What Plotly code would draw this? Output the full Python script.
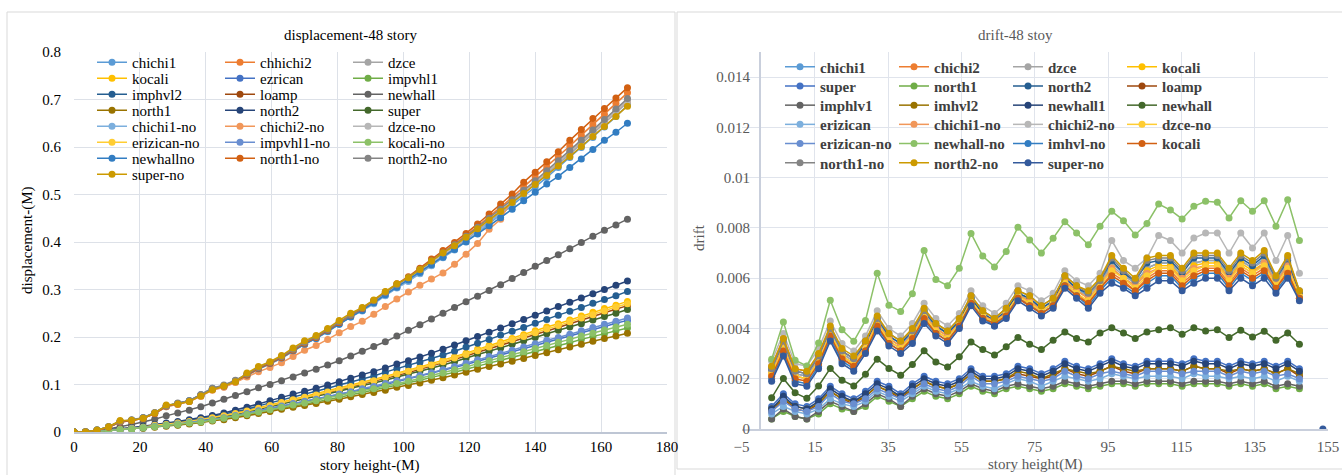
import plotly.graph_objects as go

W, H = 1342, 475

# ---------------- displacement per floor (m) ----------------
story_height = [0, 3.5, 7, 10.5, 14, 17.5, 21, 24.5, 28, 31.5, 35, 38.5, 42, 45.5, 49, 52.5,
                56, 59.5, 63, 66.5, 70, 73.5, 77, 80.5, 84, 87.5, 91, 94.5, 98, 101.5, 105,
                108.5, 112, 115.5, 119, 122.5, 126, 129.5, 133, 136.5, 140, 143.5, 147, 150.5,
                154, 157.5, 161, 164.5, 168]

disp_chichi1 = [0, 0, 0.004, 0.011, 0.022, 0.025, 0.030, 0.040, 0.055, 0.060, 0.066, 0.078, 0.092, 0.098, 0.108, 0.121, 0.134, 0.145, 0.157, 0.171, 0.186, 0.198, 0.212, 0.228, 0.243, 0.256, 0.272, 0.288, 0.304, 0.318, 0.334, 0.351, 0.368, 0.384, 0.401, 0.419, 0.438, 0.457, 0.476, 0.496, 0.516, 0.536, 0.557, 0.578, 0.599, 0.620, 0.642, 0.664, 0.688]
disp_chhichi2 = [0, 0, 0.003, 0.010, 0.021, 0.024, 0.029, 0.039, 0.054, 0.059, 0.065, 0.077, 0.090, 0.096, 0.106, 0.119, 0.133, 0.144, 0.156, 0.171, 0.186, 0.198, 0.213, 0.229, 0.244, 0.258, 0.275, 0.292, 0.309, 0.324, 0.342, 0.360, 0.378, 0.395, 0.414, 0.433, 0.453, 0.473, 0.494, 0.516, 0.537, 0.558, 0.580, 0.602, 0.625, 0.647, 0.669, 0.692, 0.714]
disp_dzce = [0, 0, 0.003, 0.010, 0.021, 0.024, 0.029, 0.039, 0.053, 0.058, 0.064, 0.076, 0.089, 0.095, 0.105, 0.119, 0.132, 0.143, 0.155, 0.170, 0.185, 0.197, 0.212, 0.228, 0.243, 0.256, 0.272, 0.289, 0.305, 0.319, 0.336, 0.354, 0.371, 0.387, 0.405, 0.424, 0.443, 0.462, 0.482, 0.502, 0.522, 0.543, 0.564, 0.585, 0.606, 0.628, 0.650, 0.672, 0.694]
disp_kocali = [0, 0, 0.002, 0.003, 0.006, 0.008, 0.010, 0.014, 0.016, 0.019, 0.022, 0.026, 0.030, 0.035, 0.040, 0.045, 0.051, 0.057, 0.063, 0.069, 0.074, 0.080, 0.086, 0.092, 0.098, 0.104, 0.110, 0.117, 0.124, 0.130, 0.137, 0.144, 0.151, 0.158, 0.166, 0.174, 0.182, 0.189, 0.197, 0.205, 0.213, 0.221, 0.228, 0.236, 0.244, 0.252, 0.260, 0.267, 0.275]
disp_ezrican = [0, 0, 0.001, 0.003, 0.005, 0.007, 0.009, 0.012, 0.014, 0.016, 0.019, 0.022, 0.026, 0.030, 0.034, 0.038, 0.044, 0.049, 0.054, 0.059, 0.064, 0.068, 0.073, 0.078, 0.084, 0.089, 0.094, 0.100, 0.106, 0.111, 0.117, 0.123, 0.129, 0.135, 0.142, 0.149, 0.155, 0.162, 0.169, 0.175, 0.182, 0.189, 0.195, 0.202, 0.209, 0.215, 0.222, 0.229, 0.235]
disp_impvhl1 = [0, 0, 0.001, 0.003, 0.005, 0.006, 0.008, 0.011, 0.013, 0.015, 0.018, 0.021, 0.024, 0.028, 0.032, 0.036, 0.041, 0.046, 0.050, 0.055, 0.059, 0.063, 0.068, 0.073, 0.078, 0.083, 0.088, 0.093, 0.099, 0.104, 0.109, 0.115, 0.120, 0.126, 0.132, 0.139, 0.145, 0.151, 0.157, 0.164, 0.170, 0.176, 0.182, 0.188, 0.195, 0.201, 0.207, 0.213, 0.219]
disp_imphvl2 = [0, 0, 0.002, 0.004, 0.007, 0.008, 0.011, 0.015, 0.018, 0.020, 0.024, 0.028, 0.033, 0.037, 0.043, 0.048, 0.055, 0.061, 0.068, 0.074, 0.080, 0.086, 0.092, 0.099, 0.105, 0.112, 0.118, 0.126, 0.133, 0.140, 0.147, 0.154, 0.162, 0.170, 0.179, 0.187, 0.195, 0.204, 0.212, 0.220, 0.229, 0.237, 0.246, 0.254, 0.262, 0.271, 0.279, 0.287, 0.296]
disp_loamp = [0, 0, 0.002, 0.003, 0.006, 0.008, 0.010, 0.013, 0.016, 0.018, 0.022, 0.025, 0.029, 0.033, 0.038, 0.043, 0.049, 0.055, 0.061, 0.067, 0.072, 0.077, 0.083, 0.089, 0.094, 0.100, 0.106, 0.113, 0.119, 0.125, 0.132, 0.139, 0.145, 0.153, 0.160, 0.168, 0.175, 0.183, 0.190, 0.198, 0.205, 0.213, 0.220, 0.228, 0.235, 0.243, 0.251, 0.258, 0.266]
disp_newhall = [0, 0, 0.002, 0.006, 0.011, 0.016, 0.021, 0.027, 0.034, 0.040, 0.046, 0.053, 0.061, 0.069, 0.077, 0.085, 0.093, 0.100, 0.108, 0.116, 0.124, 0.132, 0.141, 0.150, 0.160, 0.170, 0.180, 0.190, 0.202, 0.214, 0.226, 0.238, 0.250, 0.262, 0.274, 0.286, 0.298, 0.310, 0.323, 0.336, 0.349, 0.361, 0.373, 0.386, 0.399, 0.412, 0.425, 0.436, 0.448]
disp_north1 = [0, 0, 0.001, 0.003, 0.005, 0.006, 0.008, 0.010, 0.012, 0.014, 0.017, 0.020, 0.023, 0.026, 0.030, 0.034, 0.039, 0.043, 0.048, 0.052, 0.056, 0.060, 0.065, 0.069, 0.074, 0.079, 0.083, 0.088, 0.094, 0.098, 0.103, 0.109, 0.114, 0.120, 0.126, 0.132, 0.138, 0.143, 0.149, 0.155, 0.161, 0.167, 0.173, 0.179, 0.185, 0.191, 0.197, 0.202, 0.208]
disp_north2 = [0, 0, 0.002, 0.004, 0.007, 0.009, 0.012, 0.016, 0.019, 0.022, 0.026, 0.030, 0.035, 0.040, 0.046, 0.052, 0.059, 0.066, 0.073, 0.080, 0.086, 0.092, 0.099, 0.106, 0.113, 0.120, 0.127, 0.135, 0.143, 0.150, 0.158, 0.166, 0.174, 0.183, 0.192, 0.201, 0.210, 0.219, 0.228, 0.237, 0.246, 0.255, 0.264, 0.273, 0.282, 0.291, 0.300, 0.309, 0.318]
disp_super = [0, 0, 0.002, 0.003, 0.006, 0.007, 0.010, 0.013, 0.015, 0.018, 0.021, 0.024, 0.028, 0.032, 0.037, 0.042, 0.048, 0.053, 0.059, 0.065, 0.070, 0.075, 0.080, 0.086, 0.092, 0.097, 0.103, 0.109, 0.116, 0.122, 0.128, 0.134, 0.141, 0.148, 0.156, 0.163, 0.170, 0.177, 0.185, 0.192, 0.199, 0.207, 0.214, 0.221, 0.228, 0.236, 0.243, 0.250, 0.258]
disp_chichi1_no = [0, 0, 0.004, 0.011, 0.022, 0.025, 0.030, 0.040, 0.055, 0.060, 0.066, 0.078, 0.091, 0.097, 0.107, 0.121, 0.134, 0.144, 0.156, 0.170, 0.185, 0.197, 0.211, 0.227, 0.242, 0.255, 0.270, 0.287, 0.303, 0.317, 0.333, 0.350, 0.367, 0.383, 0.401, 0.420, 0.440, 0.460, 0.481, 0.502, 0.523, 0.544, 0.566, 0.588, 0.610, 0.633, 0.655, 0.677, 0.699]
disp_chichi2_no = [0, 0, 0.003, 0.010, 0.021, 0.024, 0.029, 0.039, 0.053, 0.058, 0.064, 0.075, 0.088, 0.094, 0.104, 0.116, 0.127, 0.136, 0.146, 0.159, 0.172, 0.182, 0.195, 0.209, 0.222, 0.233, 0.248, 0.264, 0.280, 0.295, 0.309, 0.322, 0.335, 0.353, 0.374, 0.397, 0.427, 0.448, 0.490, 0.508, 0.526, 0.546, 0.567, 0.588, 0.610, 0.632, 0.654, 0.676, 0.698]
disp_dzce_no = [0, 0, 0.004, 0.011, 0.022, 0.025, 0.030, 0.040, 0.055, 0.060, 0.066, 0.078, 0.092, 0.098, 0.108, 0.122, 0.135, 0.146, 0.158, 0.173, 0.188, 0.200, 0.215, 0.231, 0.246, 0.259, 0.275, 0.292, 0.308, 0.322, 0.339, 0.357, 0.374, 0.390, 0.408, 0.427, 0.446, 0.465, 0.485, 0.505, 0.525, 0.546, 0.567, 0.588, 0.610, 0.632, 0.654, 0.676, 0.698]
disp_erizican_no = [0, 0, 0.002, 0.003, 0.006, 0.008, 0.010, 0.014, 0.016, 0.019, 0.022, 0.026, 0.030, 0.034, 0.039, 0.044, 0.050, 0.056, 0.062, 0.068, 0.073, 0.078, 0.084, 0.090, 0.096, 0.102, 0.108, 0.115, 0.122, 0.128, 0.134, 0.141, 0.148, 0.156, 0.163, 0.171, 0.179, 0.186, 0.194, 0.201, 0.209, 0.217, 0.224, 0.232, 0.240, 0.247, 0.255, 0.263, 0.270]
disp_impvhl1_no = [0, 0, 0.002, 0.003, 0.005, 0.007, 0.009, 0.012, 0.014, 0.017, 0.020, 0.023, 0.026, 0.030, 0.035, 0.039, 0.045, 0.050, 0.055, 0.060, 0.065, 0.069, 0.075, 0.080, 0.085, 0.091, 0.096, 0.102, 0.108, 0.113, 0.119, 0.125, 0.131, 0.138, 0.145, 0.152, 0.159, 0.165, 0.172, 0.179, 0.186, 0.193, 0.199, 0.206, 0.213, 0.220, 0.227, 0.233, 0.240]
disp_kocali_no = [0, 0, 0.001, 0.003, 0.005, 0.006, 0.009, 0.011, 0.014, 0.016, 0.019, 0.021, 0.025, 0.029, 0.033, 0.037, 0.042, 0.047, 0.052, 0.057, 0.061, 0.066, 0.071, 0.076, 0.081, 0.086, 0.091, 0.097, 0.102, 0.107, 0.113, 0.119, 0.124, 0.131, 0.137, 0.144, 0.150, 0.157, 0.163, 0.169, 0.176, 0.182, 0.189, 0.195, 0.202, 0.208, 0.215, 0.221, 0.227]
disp_newhallno = [0, 0, 0.004, 0.011, 0.022, 0.025, 0.030, 0.040, 0.055, 0.060, 0.066, 0.078, 0.091, 0.097, 0.107, 0.120, 0.133, 0.144, 0.156, 0.171, 0.185, 0.197, 0.212, 0.227, 0.242, 0.256, 0.272, 0.289, 0.305, 0.320, 0.336, 0.352, 0.368, 0.384, 0.400, 0.417, 0.434, 0.451, 0.469, 0.487, 0.505, 0.522, 0.538, 0.557, 0.575, 0.595, 0.614, 0.631, 0.650]
disp_north1_no = [0, 0, 0.003, 0.010, 0.021, 0.024, 0.029, 0.039, 0.054, 0.059, 0.065, 0.077, 0.090, 0.097, 0.107, 0.120, 0.134, 0.145, 0.157, 0.172, 0.187, 0.199, 0.214, 0.230, 0.246, 0.260, 0.277, 0.295, 0.312, 0.327, 0.345, 0.364, 0.382, 0.399, 0.418, 0.438, 0.459, 0.480, 0.501, 0.526, 0.547, 0.569, 0.590, 0.614, 0.637, 0.660, 0.681, 0.703, 0.725]
disp_north2_no = [0, 0, 0.004, 0.011, 0.022, 0.026, 0.030, 0.041, 0.055, 0.061, 0.066, 0.079, 0.092, 0.099, 0.109, 0.122, 0.136, 0.147, 0.159, 0.174, 0.189, 0.201, 0.216, 0.232, 0.247, 0.261, 0.277, 0.294, 0.310, 0.325, 0.342, 0.360, 0.377, 0.394, 0.412, 0.431, 0.450, 0.469, 0.489, 0.509, 0.529, 0.550, 0.571, 0.592, 0.614, 0.636, 0.658, 0.680, 0.702]
disp_super_no = [0, 0, 0.004, 0.011, 0.024, 0.025, 0.029, 0.040, 0.057, 0.059, 0.064, 0.076, 0.089, 0.097, 0.106, 0.124, 0.138, 0.148, 0.161, 0.177, 0.192, 0.203, 0.218, 0.235, 0.250, 0.262, 0.278, 0.296, 0.312, 0.325, 0.342, 0.360, 0.377, 0.392, 0.410, 0.428, 0.446, 0.464, 0.483, 0.502, 0.521, 0.540, 0.560, 0.580, 0.601, 0.622, 0.643, 0.664, 0.686]

disp_x_ticks = [0, 20, 40, 60, 80, 100, 120, 140, 160, 180]
disp_y_ticks = [0, 0.1, 0.2, 0.3, 0.4, 0.5, 0.6, 0.7, 0.8]
disp_y_labels = ["0", "0.1", "0.2", "0.3", "0.4", "0.5", "0.6", "0.7", "0.8"]

# ---------------- inter-storey drift ----------------
drift_height = [3.2, 6.4, 9.6, 12.8, 16.0, 19.2, 22.4, 25.6, 28.8, 32.0, 35.2, 38.4, 41.6, 44.8,
                48.0, 51.2, 54.4, 57.6, 60.8, 64.0, 67.2, 70.4, 73.6, 76.8, 80.0, 83.2, 86.4,
                89.6, 92.8, 96.0, 99.2, 102.4, 105.6, 108.8, 112.0, 115.2, 118.4, 121.6, 124.8,
                128.0, 131.2, 134.4, 137.6, 140.8, 144.0, 147.2, 150.4, 153.6]

drift_chichi1 = [0.0023, 0.0034, 0.0022, 0.0021, 0.0028, 0.0039, 0.0030, 0.0027, 0.0034, 0.0043, 0.0037, 0.0034, 0.0038, 0.0046, 0.0041, 0.0038, 0.0043, 0.0052, 0.0046, 0.0043, 0.0047, 0.0054, 0.0052, 0.0048, 0.0051, 0.0060, 0.0056, 0.0053, 0.0058, 0.0066, 0.0062, 0.0058, 0.0064, 0.0066, 0.0066, 0.0061, 0.0066, 0.0067, 0.0067, 0.0061, 0.0067, 0.0064, 0.0068, 0.0059, 0.0066, 0.0054]
drift_chichi2 = [0.0025, 0.0036, 0.0024, 0.0023, 0.0026, 0.0037, 0.0028, 0.0025, 0.0032, 0.0041, 0.0035, 0.0032, 0.0036, 0.0044, 0.0039, 0.0036, 0.0041, 0.0050, 0.0044, 0.0042, 0.0045, 0.0052, 0.0050, 0.0046, 0.0049, 0.0058, 0.0054, 0.0050, 0.0056, 0.0062, 0.0059, 0.0055, 0.0060, 0.0063, 0.0063, 0.0058, 0.0062, 0.0064, 0.0064, 0.0058, 0.0064, 0.0061, 0.0064, 0.0056, 0.0063, 0.0052]
drift_dzce = [0.0023, 0.0034, 0.0022, 0.0021, 0.0028, 0.0039, 0.0030, 0.0027, 0.0033, 0.0043, 0.0036, 0.0033, 0.0038, 0.0046, 0.0040, 0.0037, 0.0043, 0.0052, 0.0046, 0.0043, 0.0047, 0.0054, 0.0051, 0.0048, 0.0051, 0.0059, 0.0055, 0.0053, 0.0058, 0.0065, 0.0061, 0.0058, 0.0064, 0.0066, 0.0066, 0.0061, 0.0066, 0.0067, 0.0067, 0.0061, 0.0067, 0.0064, 0.0067, 0.0059, 0.0066, 0.0054]
drift_kocali = [0.0022, 0.0033, 0.0021, 0.0020, 0.0027, 0.0038, 0.0029, 0.0026, 0.0033, 0.0042, 0.0036, 0.0033, 0.0037, 0.0045, 0.0040, 0.0037, 0.0042, 0.0051, 0.0045, 0.0043, 0.0046, 0.0053, 0.0051, 0.0047, 0.0050, 0.0059, 0.0055, 0.0052, 0.0057, 0.0064, 0.0060, 0.0057, 0.0063, 0.0065, 0.0065, 0.0060, 0.0065, 0.0066, 0.0066, 0.0060, 0.0066, 0.0063, 0.0066, 0.0058, 0.0065, 0.0053]
drift_super = [0.0009, 0.0014, 0.0010, 0.0009, 0.0012, 0.0017, 0.0014, 0.0012, 0.0015, 0.0019, 0.0017, 0.0014, 0.0018, 0.0021, 0.0019, 0.0018, 0.0020, 0.0024, 0.0021, 0.0021, 0.0022, 0.0025, 0.0024, 0.0022, 0.0024, 0.0027, 0.0025, 0.0024, 0.0026, 0.0028, 0.0026, 0.0025, 0.0027, 0.0027, 0.0027, 0.0026, 0.0028, 0.0027, 0.0027, 0.0025, 0.0027, 0.0026, 0.0027, 0.0025, 0.0027, 0.0024]
drift_north1 = [0.0004, 0.0007, 0.0005, 0.0004, 0.0006, 0.0010, 0.0008, 0.0007, 0.0009, 0.0013, 0.0011, 0.0009, 0.0012, 0.0015, 0.0013, 0.0012, 0.0014, 0.0017, 0.0015, 0.0014, 0.0016, 0.0017, 0.0016, 0.0015, 0.0016, 0.0018, 0.0017, 0.0016, 0.0017, 0.0018, 0.0018, 0.0017, 0.0018, 0.0018, 0.0018, 0.0017, 0.0018, 0.0018, 0.0018, 0.0017, 0.0018, 0.0017, 0.0018, 0.0016, 0.0017, 0.0016]
drift_north2 = [0.0024, 0.0035, 0.0023, 0.0022, 0.0029, 0.0040, 0.0031, 0.0028, 0.0034, 0.0044, 0.0037, 0.0034, 0.0039, 0.0047, 0.0041, 0.0038, 0.0043, 0.0052, 0.0046, 0.0043, 0.0047, 0.0054, 0.0052, 0.0048, 0.0051, 0.0060, 0.0056, 0.0054, 0.0059, 0.0067, 0.0062, 0.0059, 0.0066, 0.0067, 0.0067, 0.0062, 0.0068, 0.0068, 0.0068, 0.0062, 0.0068, 0.0065, 0.0069, 0.0060, 0.0067, 0.0054]
drift_loamp = [0.0007, 0.0012, 0.0008, 0.0007, 0.0010, 0.0015, 0.0012, 0.0010, 0.0013, 0.0017, 0.0015, 0.0012, 0.0016, 0.0019, 0.0017, 0.0016, 0.0018, 0.0022, 0.0019, 0.0019, 0.0020, 0.0022, 0.0021, 0.0020, 0.0021, 0.0024, 0.0022, 0.0021, 0.0023, 0.0025, 0.0023, 0.0022, 0.0024, 0.0024, 0.0024, 0.0023, 0.0025, 0.0024, 0.0024, 0.0022, 0.0024, 0.0023, 0.0024, 0.0022, 0.0024, 0.0021]
drift_imphlv1 = [0.0004, 0.0008, 0.0005, 0.0004, 0.0007, 0.0011, 0.0009, 0.0007, 0.0010, 0.0014, 0.0012, 0.0009, 0.0013, 0.0016, 0.0014, 0.0013, 0.0015, 0.0018, 0.0016, 0.0015, 0.0017, 0.0018, 0.0017, 0.0016, 0.0017, 0.0019, 0.0018, 0.0017, 0.0018, 0.0019, 0.0019, 0.0018, 0.0019, 0.0019, 0.0019, 0.0018, 0.0019, 0.0019, 0.0019, 0.0018, 0.0019, 0.0018, 0.0019, 0.0017, 0.0018, 0.0017]
drift_imhvl2 = [0.0008, 0.0012, 0.0009, 0.0008, 0.0010, 0.0015, 0.0012, 0.0011, 0.0013, 0.0017, 0.0015, 0.0013, 0.0016, 0.0019, 0.0017, 0.0016, 0.0018, 0.0022, 0.0019, 0.0019, 0.0020, 0.0023, 0.0022, 0.0020, 0.0022, 0.0024, 0.0023, 0.0022, 0.0023, 0.0025, 0.0024, 0.0023, 0.0024, 0.0024, 0.0024, 0.0023, 0.0025, 0.0024, 0.0024, 0.0023, 0.0024, 0.0023, 0.0024, 0.0022, 0.0024, 0.0022]
drift_newhall1 = [0.0008, 0.0013, 0.0009, 0.0008, 0.0011, 0.0016, 0.0013, 0.0011, 0.0014, 0.0018, 0.0016, 0.0013, 0.0017, 0.0020, 0.0018, 0.0017, 0.0019, 0.0023, 0.0020, 0.0020, 0.0021, 0.0024, 0.0023, 0.0021, 0.0023, 0.0026, 0.0024, 0.0023, 0.0025, 0.0027, 0.0025, 0.0024, 0.0026, 0.0026, 0.0026, 0.0025, 0.0027, 0.0026, 0.0026, 0.0024, 0.0026, 0.0025, 0.0026, 0.0024, 0.0026, 0.0023]
drift_newhall = [0.00124, 0.00201, 0.00144, 0.00122, 0.00171, 0.00241, 0.00194, 0.00171, 0.00218, 0.00278, 0.00241, 0.00214, 0.00257, 0.00311, 0.00267, 0.00247, 0.00287, 0.00346, 0.00316, 0.00294, 0.00327, 0.00364, 0.00337, 0.00316, 0.00353, 0.00386, 0.0036, 0.00346, 0.00382, 0.00403, 0.00382, 0.0036, 0.00386, 0.00395, 0.00403, 0.00377, 0.00403, 0.0039, 0.00395, 0.00364, 0.00393, 0.00366, 0.00389, 0.00353, 0.00382, 0.00337]
drift_erizican = [0.0006, 0.0009, 0.0007, 0.0006, 0.0008, 0.0012, 0.0010, 0.0009, 0.0011, 0.0015, 0.0013, 0.0011, 0.0014, 0.0017, 0.0015, 0.0014, 0.0016, 0.0019, 0.0017, 0.0016, 0.0018, 0.0020, 0.0019, 0.0017, 0.0019, 0.0021, 0.0020, 0.0019, 0.0020, 0.0022, 0.0021, 0.0020, 0.0021, 0.0021, 0.0021, 0.0020, 0.0022, 0.0021, 0.0021, 0.0020, 0.0021, 0.0020, 0.0021, 0.0019, 0.0021, 0.0019]
drift_chichi1_no = [0.0022, 0.0033, 0.0021, 0.0020, 0.0027, 0.0038, 0.0029, 0.0026, 0.0033, 0.0042, 0.0036, 0.0033, 0.0037, 0.0045, 0.0040, 0.0037, 0.0042, 0.0051, 0.0045, 0.0043, 0.0046, 0.0053, 0.0051, 0.0047, 0.0050, 0.0059, 0.0055, 0.0052, 0.0057, 0.0064, 0.0060, 0.0057, 0.0062, 0.0064, 0.0064, 0.0060, 0.0064, 0.0065, 0.0065, 0.0060, 0.0065, 0.0062, 0.0066, 0.0058, 0.0065, 0.0053]
drift_chichi2_no = [0.0027, 0.0038, 0.0026, 0.0025, 0.0032, 0.0043, 0.0034, 0.0031, 0.0037, 0.0047, 0.0040, 0.0037, 0.0042, 0.0050, 0.0044, 0.0041, 0.0046, 0.0055, 0.0049, 0.0046, 0.0050, 0.0057, 0.0055, 0.0051, 0.0054, 0.0063, 0.0059, 0.0057, 0.0062, 0.0075, 0.0067, 0.0064, 0.0068, 0.0077, 0.0075, 0.0070, 0.0076, 0.0078, 0.0078, 0.0070, 0.0078, 0.0072, 0.0078, 0.0067, 0.0077, 0.0062]
drift_dzce_no = [0.0022, 0.0032, 0.0021, 0.0020, 0.0027, 0.0038, 0.0029, 0.0026, 0.0032, 0.0042, 0.0035, 0.0032, 0.0037, 0.0045, 0.0039, 0.0036, 0.0042, 0.0051, 0.0045, 0.0042, 0.0046, 0.0053, 0.0050, 0.0047, 0.0050, 0.0058, 0.0054, 0.0051, 0.0057, 0.0063, 0.0060, 0.0056, 0.0061, 0.0064, 0.0064, 0.0059, 0.0063, 0.0065, 0.0065, 0.0059, 0.0065, 0.0062, 0.0065, 0.0057, 0.0064, 0.0053]
drift_erizican_no = [0.0007, 0.0011, 0.0008, 0.0007, 0.0009, 0.0014, 0.0011, 0.0010, 0.0012, 0.0016, 0.0014, 0.0012, 0.0015, 0.0018, 0.0016, 0.0015, 0.0017, 0.0021, 0.0018, 0.0018, 0.0019, 0.0021, 0.0020, 0.0019, 0.0020, 0.0023, 0.0021, 0.0020, 0.0022, 0.0023, 0.0022, 0.0021, 0.0023, 0.0023, 0.0023, 0.0022, 0.0023, 0.0023, 0.0023, 0.0021, 0.0023, 0.0022, 0.0023, 0.0021, 0.0022, 0.0020]
drift_newhall_no = [0.00278, 0.00426, 0.00274, 0.00251, 0.00342, 0.00512, 0.00395, 0.00349, 0.00432, 0.0062, 0.00492, 0.00468, 0.00538, 0.0071, 0.00595, 0.0057, 0.0064, 0.00778, 0.00688, 0.00645, 0.00706, 0.00803, 0.00752, 0.007, 0.00759, 0.00825, 0.0078, 0.00733, 0.00807, 0.00866, 0.00829, 0.00772, 0.00818, 0.00895, 0.00871, 0.00836, 0.00886, 0.00906, 0.00902, 0.0084, 0.00908, 0.00866, 0.00908, 0.00807, 0.00912, 0.0075]
drift_imhvl_no = [0.0020, 0.0030, 0.0019, 0.0018, 0.0025, 0.0036, 0.0027, 0.0024, 0.0031, 0.0040, 0.0034, 0.0031, 0.0035, 0.0043, 0.0038, 0.0035, 0.0041, 0.0050, 0.0044, 0.0041, 0.0045, 0.0052, 0.0049, 0.0046, 0.0049, 0.0057, 0.0053, 0.0049, 0.0055, 0.0060, 0.0057, 0.0054, 0.0058, 0.0061, 0.0061, 0.0056, 0.0060, 0.0062, 0.0062, 0.0056, 0.0062, 0.0059, 0.0062, 0.0055, 0.0061, 0.0052]
drift_kocali_b = [0.0021, 0.0031, 0.0020, 0.0019, 0.0026, 0.0037, 0.0028, 0.0025, 0.0031, 0.0041, 0.0034, 0.0031, 0.0036, 0.0044, 0.0038, 0.0035, 0.0041, 0.0050, 0.0044, 0.0042, 0.0045, 0.0052, 0.0049, 0.0046, 0.0049, 0.0057, 0.0053, 0.0050, 0.0056, 0.0061, 0.0058, 0.0055, 0.0059, 0.0062, 0.0062, 0.0057, 0.0061, 0.0063, 0.0063, 0.0057, 0.0063, 0.0060, 0.0063, 0.0056, 0.0062, 0.0052]
drift_north1_no = [0.0024, 0.0035, 0.0023, 0.0022, 0.0029, 0.0040, 0.0031, 0.0028, 0.0035, 0.0044, 0.0038, 0.0035, 0.0039, 0.0047, 0.0042, 0.0039, 0.0044, 0.0053, 0.0047, 0.0044, 0.0048, 0.0055, 0.0053, 0.0049, 0.0052, 0.0061, 0.0057, 0.0054, 0.0059, 0.0068, 0.0063, 0.0059, 0.0067, 0.0068, 0.0068, 0.0063, 0.0069, 0.0069, 0.0069, 0.0063, 0.0069, 0.0066, 0.0070, 0.0060, 0.0068, 0.0055]
drift_north2_no = [0.0025, 0.0036, 0.0024, 0.0023, 0.0030, 0.0041, 0.0032, 0.0029, 0.0035, 0.0045, 0.0038, 0.0035, 0.0040, 0.0048, 0.0042, 0.0039, 0.0044, 0.0053, 0.0047, 0.0044, 0.0048, 0.0055, 0.0053, 0.0049, 0.0052, 0.0061, 0.0057, 0.0055, 0.0060, 0.0069, 0.0064, 0.0060, 0.0068, 0.0069, 0.0069, 0.0064, 0.0070, 0.0070, 0.0070, 0.0064, 0.0070, 0.0067, 0.0071, 0.0061, 0.0069, 0.0055]
drift_super_no = [0.0019, 0.0029, 0.0018, 0.0017, 0.0024, 0.0035, 0.0026, 0.0023, 0.0030, 0.0039, 0.0033, 0.0030, 0.0034, 0.0042, 0.0037, 0.0034, 0.0040, 0.0049, 0.0043, 0.0041, 0.0044, 0.0051, 0.0048, 0.0045, 0.0048, 0.0056, 0.0052, 0.0048, 0.0054, 0.0058, 0.0056, 0.0053, 0.0056, 0.0059, 0.0059, 0.0055, 0.0058, 0.0060, 0.0060, 0.0055, 0.0060, 0.0057, 0.0060, 0.0054, 0.0060, 0.0051, None, 0.0]

drift_x_ticks = [-5, 15, 35, 55, 75, 95, 115, 135, 155]
drift_y_ticks = [0, 0.002, 0.004, 0.006, 0.008, 0.01, 0.012, 0.014]
drift_y_labels = ["0", "0.002", "0.004", "0.006", "0.008", "0.01", "0.012", "0.014"]

# series in legend order (rows of three on the left, rows of four on the right)
disp_series = [
    ("chichi1", disp_chichi1, "#5B9BD5"), ("chhichi2", disp_chhichi2, "#ED7D31"), ("dzce", disp_dzce, "#A5A5A5"),
    ("kocali", disp_kocali, "#FFC000"), ("ezrican", disp_ezrican, "#4472C4"), ("impvhl1", disp_impvhl1, "#70AD47"),
    ("imphvl2", disp_imphvl2, "#255E91"), ("loamp", disp_loamp, "#9E480E"), ("newhall", disp_newhall, "#636363"),
    ("north1", disp_north1, "#997300"), ("north2", disp_north2, "#264478"), ("super", disp_super, "#43682B"),
    ("chichi1-no", disp_chichi1_no, "#7CAFDD"), ("chichi2-no", disp_chichi2_no, "#F1975A"), ("dzce-no", disp_dzce_no, "#B7B7B7"),
    ("erizican-no", disp_erizican_no, "#FFCD33"), ("impvhl1-no", disp_impvhl1_no, "#698ED0"), ("kocali-no", disp_kocali_no, "#8CC168"),
    ("newhallno", disp_newhallno, "#327DC2"), ("north1-no", disp_north1_no, "#D26012"), ("north2-no", disp_north2_no, "#848484"),
    ("super-no", disp_super_no, "#CC9A00"),
]
drift_series = [
    ("chichi1", drift_chichi1, "#5B9BD5"), ("chichi2", drift_chichi2, "#ED7D31"), ("dzce", drift_dzce, "#A5A5A5"), ("kocali", drift_kocali, "#FFC000"),
    ("super", drift_super, "#4472C4"), ("north1", drift_north1, "#70AD47"), ("north2", drift_north2, "#255E91"), ("loamp", drift_loamp, "#9E480E"),
    ("imphlv1", drift_imphlv1, "#636363"), ("imhvl2", drift_imhvl2, "#997300"), ("newhall1", drift_newhall1, "#264478"), ("newhall", drift_newhall, "#43682B"),
    ("erizican", drift_erizican, "#7CAFDD"), ("chichi1-no", drift_chichi1_no, "#F1975A"), ("chichi2-no", drift_chichi2_no, "#B7B7B7"), ("dzce-no", drift_dzce_no, "#FFCD33"),
    ("erizican-no", drift_erizican_no, "#698ED0"), ("newhall-no", drift_newhall_no, "#8CC168"), ("imhvl-no", drift_imhvl_no, "#327DC2"), ("kocali", drift_kocali_b, "#D26012"),
    ("north1-no", drift_north1_no, "#848484"), ("north2-no", drift_north2_no, "#CC9A00"), ("super-no", drift_super_no, "#345A9C"),
]

for _, v, _ in disp_series:
    assert len(v) == len(story_height)
for _, v, _ in drift_series:
    assert len(v) in (46, 48)


def px_x(px):
    return px / W


def px_y(py):
    return 1 - py / H


def legend_key(n):
    return "legend" if n == 1 else f"legend{n}"


SERIF = '"Times New Roman", "Liberation Serif", "DejaVu Serif", serif'
fig = go.Figure()

for k, (name, vals, color) in enumerate(disp_series):
    fig.add_trace(go.Scatter(
        x=story_height[:len(vals)], y=vals, name=name, mode="lines+markers",
        line=dict(color=color, width=1.5), marker=dict(color=color, size=7),
        xaxis="x", yaxis="y", legend=legend_key(1 + k // 3), connectgaps=False))

for k, (name, vals, color) in enumerate(drift_series):
    fig.add_trace(go.Scatter(
        x=drift_height[:len(vals)], y=vals, name=name, mode="lines+markers",
        line=dict(color=color, width=1.5), marker=dict(color=color, size=7),
        xaxis="x2", yaxis="y2", legend=legend_key(9 + k // 4), connectgaps=False))

layout = dict(
    width=W, height=H, margin=dict(l=0, r=0, t=0, b=0, autoexpand=False),
    paper_bgcolor="white", plot_bgcolor="white", showlegend=True,
    font=dict(family=SERIF, size=15, color="black"),
    xaxis=dict(domain=[px_x(74), px_x(667)], range=[0, 180], tickmode="array", tickvals=disp_x_ticks,
               showgrid=True, gridcolor="#DDE1E8", gridwidth=1, zeroline=False,
               showline=True, linecolor="#BEC6D4", linewidth=1.5, ticks="", automargin=False,
               tickfont=dict(family=SERIF, size=15, color="black"), anchor="y", fixedrange=True),
    yaxis=dict(domain=[px_y(432), px_y(52)], range=[0, 0.8], tickmode="array", tickvals=disp_y_ticks,
               ticktext=disp_y_labels, showgrid=True, gridcolor="#DDE1E8", gridwidth=1, zeroline=False,
               showline=False, ticks="", ticklabelstandoff=12, automargin=False,
               tickfont=dict(family=SERIF, size=15, color="black"), anchor="x", fixedrange=True),
    xaxis2=dict(domain=[px_x(741.6), px_x(1328)], range=[-5, 155], tickmode="array", tickvals=drift_x_ticks,
                showgrid=True, gridcolor="#E0E4EC", gridwidth=1, zeroline=True, zerolinecolor="#C9CFDC",
                zerolinewidth=1.5, showline=True, linecolor="#C9CFDC", linewidth=1.5, ticks="", automargin=False,
                ticklabelstandoff=3,
                tickfont=dict(family=SERIF, size=15, color="#595959"), anchor="y2", fixedrange=True),
    yaxis2=dict(domain=[px_y(429), px_y(52)], range=[0, 0.015], tickmode="array", tickvals=drift_y_ticks,
                ticktext=drift_y_labels, showgrid=True, gridcolor="#E0E4EC", gridwidth=1, zeroline=False,
                showline=False, ticks="", anchor="free", position=px_x(760), ticklabelstandoff=10,
                automargin=False, tickfont=dict(family=SERIF, size=15, color="#595959"), fixedrange=True),
)

# one horizontal legend per row so the grid spacing follows the chart
for row in range(8):
    layout[legend_key(1 + row)] = dict(
        orientation="h", x=px_x(92), xanchor="left", y=px_y(63.5 + 16 * row - 17.5), yanchor="top",
        entrywidth=83, entrywidthmode="pixels", bgcolor="rgba(0,0,0,0)", borderwidth=0,
        font=dict(family=SERIF, size=15, color="black"))
for row in range(6):
    layout[legend_key(9 + row)] = dict(
        orientation="h", x=px_x(780), xanchor="left", y=px_y(68 + 19.2 * row - 17.5), yanchor="top",
        entrywidth=69, entrywidthmode="pixels", bgcolor="rgba(0,0,0,0)", borderwidth=0,
        font=dict(family=SERIF, size=15, color="#404040", weight="bold"))

fig.update_layout(**layout)


def label(text, x, y, color="black", angle=0):
    fig.add_annotation(text=text, x=px_x(x), y=px_y(y), xref="paper", yref="paper",
                       showarrow=False, xanchor="center", yanchor="middle", textangle=angle,
                       font=dict(family=SERIF, size=15, color=color))


label("displacement-48 story", 350, 35)
label("displacement-(M)", 27, 241, angle=-90)
label("story height-(M)", 370, 465)
label("drift-48 stoy", 1015, 35, color="#595959")
label("drift", 699, 238, color="#595959", angle=-90)
label("story height(M)", 1035, 464, color="#595959")

# chart frames
for x0, x1, y1 in ((7, 675, 480), (677, 1350, 469)):
    fig.add_shape(type="rect", xref="paper", yref="paper", x0=px_x(x0), x1=px_x(x1),
                  y0=px_y(y1), y1=px_y(12), line=dict(color="#D9D9D9", width=1),
                  fillcolor="rgba(0,0,0,0)", layer="below")

fig.write_html("out.html")
